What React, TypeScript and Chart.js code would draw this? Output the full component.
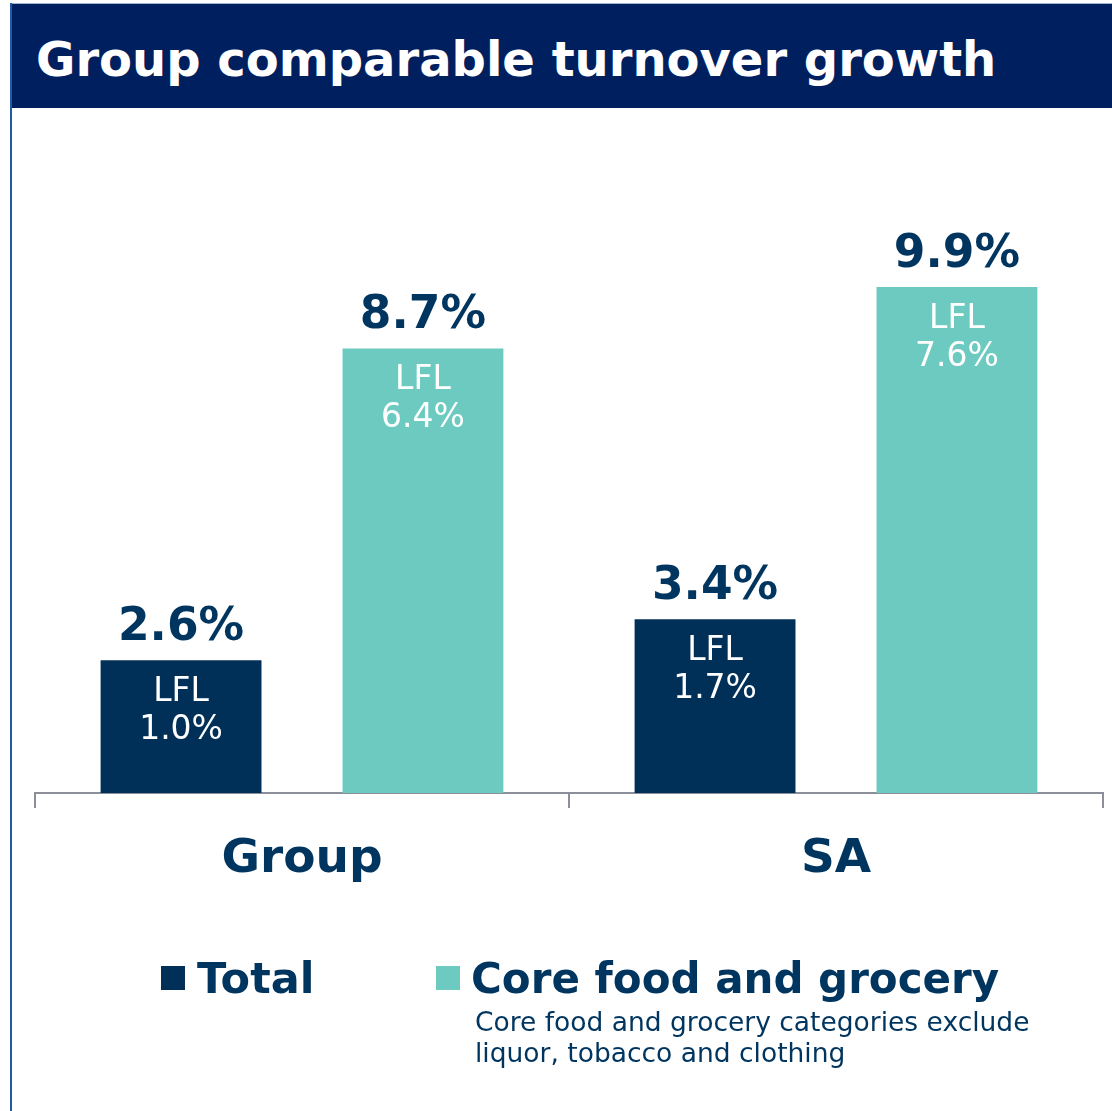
import React, { useEffect, useRef } from "react";
import { Chart, registerables } from "chart.js";

Chart.register(...registerables);

const categories = ["Group", "SA"];
const totalValues = [2.6, 3.4];
const coreValues = [8.7, 9.9];
const totalLfl = [1.0, 1.7];
const coreLfl = [6.4, 7.6];
const seriesNames = ["Total", "Core food and grocery"];
const titleText = "Group comparable turnover growth";
const noteLines = ["Core food and grocery categories exclude", "liquor, tobacco and clothing"];

const NAVY = "#003057";
const TEXT_NAVY = "#00355f";
const TEAL = "#6dcac0";
const FONT = "'DejaVu Sans', Verdana, sans-serif";

const labelPlugin = {
  id: "barLabels",
  afterDatasetsDraw(chart: any) {
    const ctx = chart.ctx;
    const lfls = [totalLfl, coreLfl];
    chart.data.datasets.forEach((ds: any, di: number) => {
      const meta = chart.getDatasetMeta(di);
      meta.data.forEach((bar: any, i: number) => {
        const v = ds.data[i];
        ctx.save();
        ctx.textAlign = "center";
        ctx.textBaseline = "alphabetic";
        ctx.fillStyle = TEXT_NAVY;
        ctx.font = `bold 45.5px ${FONT}`;
        ctx.fillText(v.toFixed(1) + "%", bar.x, bar.y - 20);
        ctx.fillStyle = "#ffffff";
        ctx.font = `33px ${FONT}`;
        ctx.fillText("LFL", bar.x, bar.y + 41);
        ctx.fillText(lfls[di][i].toFixed(1) + "%", bar.x, bar.y + 79);
        ctx.restore();
      });
    });
    const xs = chart.scales.x;
    ctx.save();
    ctx.textAlign = "center";
    ctx.textBaseline = "alphabetic";
    ctx.fillStyle = TEXT_NAVY;
    ctx.font = `bold 47px ${FONT}`;
    categories.forEach((c, i) => {
      ctx.fillText(c, xs.getPixelForValue(i), 872);
    });
    ctx.restore();
  },
};

export default function App() {
  const canvasRef = useRef<HTMLCanvasElement | null>(null);
  useEffect(() => {
    if (!canvasRef.current) return;
    const chart = new Chart(canvasRef.current, {
      type: "bar",
      data: {
        labels: categories,
        datasets: [
          { label: seriesNames[0], data: totalValues, backgroundColor: NAVY, categoryPercentage: 0.906, barPercentage: 0.665 },
          { label: seriesNames[1], data: coreValues, backgroundColor: TEAL, categoryPercentage: 0.906, barPercentage: 0.665 },
        ],
      },
      options: {
        animation: false,
        responsive: false,
        maintainAspectRatio: false,
        layout: { padding: { left: 35, right: 9, top: 282, bottom: 303 } },
        plugins: { legend: { display: false }, tooltip: { enabled: false }, title: { display: false } },
        scales: {
          x: {
            ticks: { display: false },
            grid: { offset: true, drawOnChartArea: false, drawTicks: true, tickLength: 15, color: "#8c8f99", lineWidth: 2 },
            border: { display: true, color: "#8c8f99", width: 2 },
          },
          y: { display: false, min: 0, max: 10 },
        },
      },
      plugins: [labelPlugin],
    });
    return () => chart.destroy();
  }, []);

  return (
    <div style={{ position: "absolute", left: 0, top: 0, width: 1112, height: 1111, background: "#fff", overflow: "hidden", fontFamily: FONT }}>
      <canvas ref={canvasRef} width={1112} height={1111} style={{ position: "absolute", left: 0, top: 0, width: 1112, height: 1111 }} />
      <div style={{ position: "absolute", left: 10, top: 3, width: 1102, height: 1, background: "#9fb6d6" }} />
      <div style={{ position: "absolute", left: 10, top: 4, width: 1102, height: 104, background: "#001f5f" }} />
      <div style={{ position: "absolute", left: 10, top: 3, width: 2, height: 1108, background: "#1f5aa8" }} />
      <div style={{ position: "absolute", left: 36, top: 35.4, fontSize: 48, lineHeight: "1", fontWeight: "bold", color: "#fff", whiteSpace: "nowrap" }}>{titleText}</div>
      <div style={{ position: "absolute", left: 161, top: 966, width: 24, height: 24, background: NAVY }} />
      <div style={{ position: "absolute", left: 197, top: 956.6, fontSize: 43, lineHeight: "1", fontWeight: "bold", color: TEXT_NAVY, whiteSpace: "nowrap" }}>{seriesNames[0]}</div>
      <div style={{ position: "absolute", left: 436, top: 966, width: 24, height: 24, background: TEAL }} />
      <div style={{ position: "absolute", left: 471, top: 957.5, fontSize: 42, lineHeight: "1", fontWeight: "bold", color: TEXT_NAVY, whiteSpace: "nowrap" }}>{seriesNames[1]}</div>
      <div style={{ position: "absolute", left: 475, top: 1006.3, fontSize: 26.5, lineHeight: "31px", color: TEXT_NAVY, whiteSpace: "nowrap" }}>
        {noteLines.map((l, i) => (<div key={i}>{l}</div>))}
      </div>
    </div>
  );
}
